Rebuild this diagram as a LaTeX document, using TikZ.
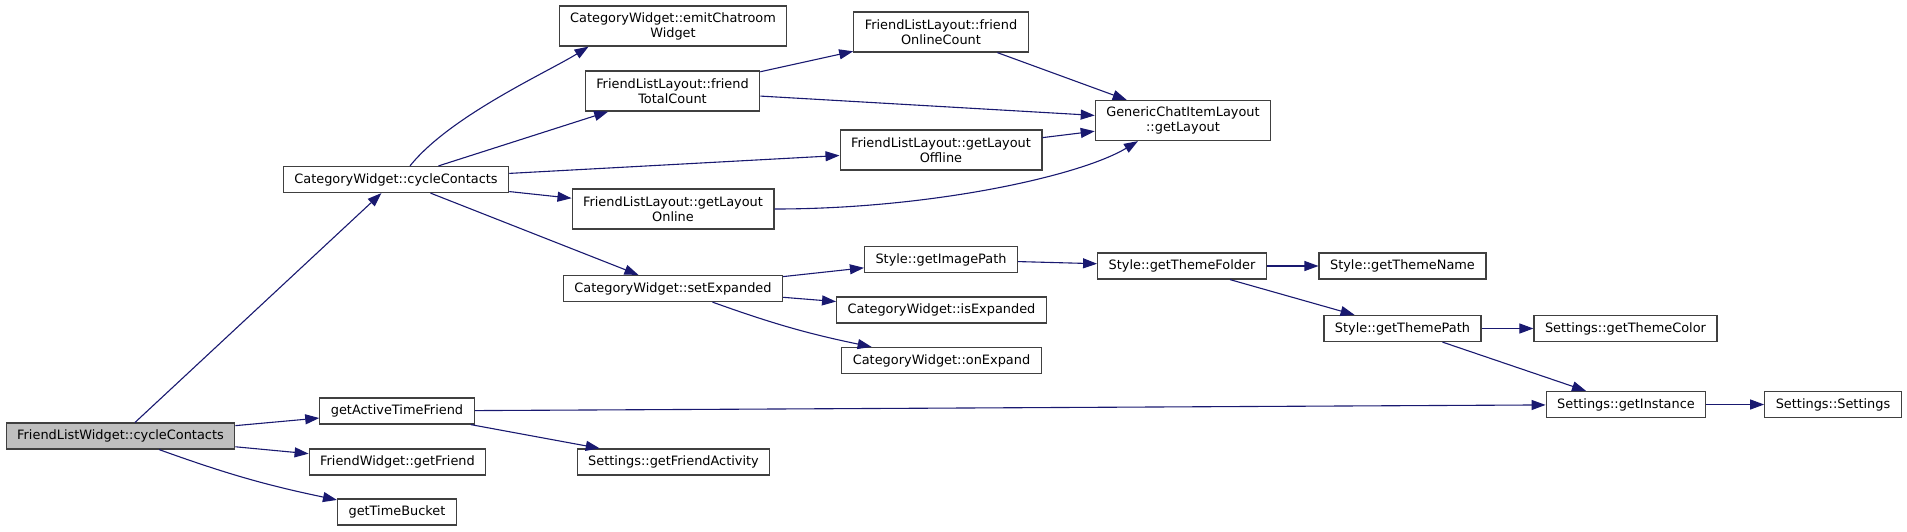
\documentclass[tikz,border=0pt]{standalone}
\usepackage{fontspec}
\setmainfont{DejaVu Sans}
\usepackage{tikz}
\usetikzlibrary{arrows.meta,calc}
\definecolor{calledge}{HTML}{191970}
\definecolor{curfill}{HTML}{BFBFBF}
\definecolor{boxline}{HTML}{404040}

\begin{document}
\begin{tikzpicture}[x=1pt,y=-1pt,
  fnbox/.style={draw=boxline,line width=1.2pt,fill=white,align=center,minimum height=26pt,inner xsep=11pt,inner ysep=3pt,font=\fontsize{12.9}{15}\selectfont},
  tallbox/.style={fnbox,minimum height=40pt},
  curbox/.style={fnbox,fill=curfill},
  callarr/.style={-{Triangle[length=14pt,width=10pt]},line width=1.1pt,calledge}]
  \useasboundingbox (0,0) rectangle (1907,531);
  % column 1 and 2
  \node[curbox] (flw) at (120.5,436) {FriendListWidget::cycleContacts};
  \node[fnbox] (cwcycle) at (396,179.5) {CategoryWidget::cycleContacts};
  \node[fnbox] (activetf) at (397,411) {getActiveTimeFriend};
  \node[fnbox] (getfriend) at (397.5,462) {FriendWidget::getFriend};
  \node[fnbox] (timebucket) at (397,512) {getTimeBucket};
  % column 3
  \node[tallbox] (emit) at (673,26) {CategoryWidget::emitChatroom\\Widget};
  \node[tallbox] (ftotal) at (672.5,91) {FriendListLayout::friend\\TotalCount};
  \node[tallbox] (online) at (673,209) {FriendListLayout::getLayout\\Online};
  \node[fnbox] (setexp) at (673,288.5) {CategoryWidget::setExpanded};
  \node[fnbox] (friendact) at (673.5,462) {Settings::getFriendActivity};
  % column 4
  \node[tallbox] (fonline) at (941,32) {FriendListLayout::friend\\OnlineCount};
  \node[tallbox] (offline) at (941,150) {FriendListLayout::getLayout\\Offline};
  \node[fnbox] (imgpath) at (941,259.5) {Style::getImagePath};
  \node[fnbox] (isexp) at (941.5,310) {CategoryWidget::isExpanded};
  \node[fnbox] (onexp) at (941.5,360.5) {CategoryWidget::onExpand};
  % column 5 and beyond
  \node[tallbox] (getlayout) at (1183,120.5) {GenericChatItemLayout\\::getLayout};
  \node[fnbox] (themefolder) at (1182,266) {Style::getThemeFolder};
  \node[fnbox] (themename) at (1402.5,266) {Style::getThemeName};
  \node[fnbox] (themepath) at (1402.5,328.5) {Style::getThemePath};
  \node[fnbox] (themecolor) at (1625.5,328.5) {Settings::getThemeColor};
  \node[fnbox] (instance) at (1626,404.5) {Settings::getInstance};
  \node[fnbox] (settings) at (1833,404.5) {Settings::Settings};
  % calls
  \foreach \a/\b in {flw/cwcycle,flw/activetf,flw/getfriend,cwcycle/ftotal,cwcycle/offline,cwcycle/online,cwcycle/setexp,
    ftotal/fonline,ftotal/getlayout,fonline/getlayout,offline/getlayout,setexp/imgpath,setexp/isexp,
    imgpath/themefolder,themefolder/themename,themefolder/themepath,themepath/themecolor,themepath/instance,
    instance/settings,activetf/instance,activetf/friendact} \draw[callarr] (\a) -- (\b);
  \draw[callarr] (flw) to[bend right=4] (timebucket);
  \draw[callarr] (setexp) to[bend right=4] (onexp);
  \draw[callarr] ([xshift=14pt]cwcycle.north) .. controls +(40,-50) and +(-40,25) .. ([xshift=30pt]emit.south west);
  \draw[callarr] (online.east) .. controls +(156,0) and +(-58,35) .. ([xshift=-45pt]getlayout.south);
\end{tikzpicture}
\end{document}
